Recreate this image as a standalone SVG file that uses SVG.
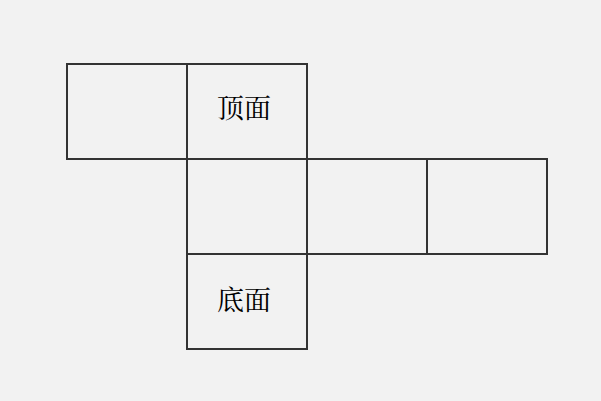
<svg xmlns="http://www.w3.org/2000/svg" width="601" height="401" viewBox="0 0 601 401">
<style>
.f{fill:none;stroke:#333;stroke-width:2}
.t{font-family:"Noto Serif CJK SC","Noto Sans CJK SC",serif;font-size:27px;fill:#000;text-anchor:middle;dominant-baseline:central}
</style>
<rect width="601" height="401" fill="#f2f2f2"/>
<g id="face-left"><rect class="f" x="67" y="64" width="120" height="95"/></g>
<g id="face-top"><rect class="f" x="187" y="64" width="120" height="95"/><text class="t" x="244" y="106">顶面</text></g>
<g id="face-front"><rect class="f" x="187" y="159" width="120" height="95"/></g>
<g id="face-right"><rect class="f" x="307" y="159" width="120" height="95"/></g>
<g id="face-back"><rect class="f" x="427" y="159" width="120" height="95"/></g>
<g id="face-bottom"><rect class="f" x="187" y="254" width="120" height="95"/><text class="t" x="244" y="298">底面</text></g>
<g id="connectors"></g>
</svg>
